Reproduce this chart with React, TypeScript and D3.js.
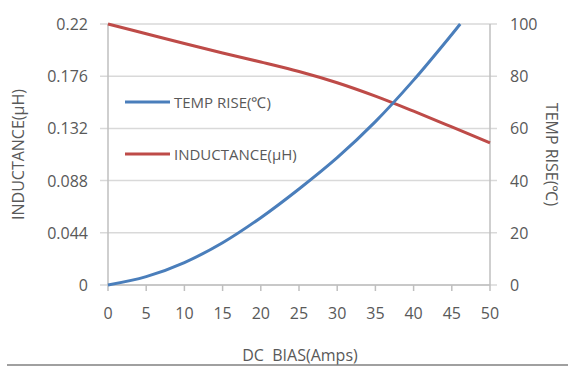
import React from "react";
import * as d3 from "d3";

const biasAmps = [0, 5, 10, 15, 20, 25, 30, 35, 40, 45, 50];
const inductance = [0.22, 0.2118, 0.2035, 0.1955, 0.188, 0.18, 0.1705, 0.1592, 0.1465, 0.1332, 0.1197];
const tempBias = [0, 5, 10, 15, 20, 25, 30, 35, 40, 45, 46.1];
const tempRise = [0, 3.2, 8.6, 16.2, 25.8, 36.8, 48.8, 62.6, 78.5, 96, 100];
const leftTicks = [0, 0.044, 0.088, 0.132, 0.176, 0.22];
const rightTicks = [0, 20, 40, 60, 80, 100];
const xTicks = [0, 5, 10, 15, 20, 25, 30, 35, 40, 45, 50];

const W = 568, H = 367;
const L = 108, R = 490, T = 24, B = 285;
const FONT = "'Open Sans', 'Liberation Sans', sans-serif";
const TXT = "#595959";

export default function App() {
  const x = d3.scaleLinear().domain([0, 50]).range([L, R]);
  const yL = d3.scaleLinear().domain([0, 0.22]).range([B, T]);
  const yR = d3.scaleLinear().domain([0, 100]).range([B, T]);
  const indLine = d3.line<number>().x((_, i) => x(biasAmps[i])).y((d) => yL(d)).curve(d3.curveCatmullRom.alpha(0.5));
  const tempLine = d3.line<number>().x((_, i) => x(tempBias[i])).y((d) => yR(d)).curve(d3.curveCatmullRom.alpha(0.5));
  return (
    <svg width={W} height={H} style={{ position: "absolute", left: 0, top: 0, background: "#fff" }}>
      <rect x={0} y={0} width={W} height={H} fill="#fff" />
      {leftTicks.map((t, i) => (
        <line key={"g" + i} x1={L - 8} x2={R + 7} y1={yL(t)} y2={yL(t)} stroke="#d9d9d9" strokeWidth={1.5} />
      ))}
      <line x1={L} x2={L} y1={T} y2={B} stroke="#bfbfbf" strokeWidth={1.5} />
      <line x1={R} x2={R} y1={T} y2={B} stroke="#bfbfbf" strokeWidth={1.5} />
      <line x1={L} x2={R} y1={B} y2={B} stroke="#bfbfbf" strokeWidth={1.5} />
      {xTicks.map((t, i) => (
        <g key={"x" + i}>
          <line x1={x(t)} x2={x(t)} y1={B} y2={B + 6} stroke="#bfbfbf" strokeWidth={1.5} />
          <text x={x(t)} y={B + 34} textAnchor="middle" fontFamily={FONT} fontSize={16} fill={TXT}>{t}</text>
        </g>
      ))}
      {leftTicks.map((t, i) => (
        <text key={"l" + i} x={88} y={yL(t) + 6} textAnchor="end" fontFamily={FONT} fontSize={16} fill={TXT}>{t}</text>
      ))}
      {rightTicks.map((t, i) => (
        <text key={"r" + i} x={510} y={yR(t) + 6} textAnchor="start" fontFamily={FONT} fontSize={16} fill={TXT}>{t}</text>
      ))}
      <path d={indLine(inductance) || ""} fill="none" stroke="#be4b48" strokeWidth={3} />
      <path d={tempLine(tempRise) || ""} fill="none" stroke="#4a7ebb" strokeWidth={3} />
      <line x1={125} x2={170} y1={102} y2={102} stroke="#4a7ebb" strokeWidth={3} />
      <text x={174} y={108} fontFamily={FONT} fontSize={15} fill={TXT}>TEMP RISE(℃)</text>
      <line x1={125} x2={170} y1={154} y2={154} stroke="#be4b48" strokeWidth={3} />
      <text x={174} y={160} fontFamily={FONT} fontSize={15} fill={TXT}>INDUCTANCE(µH)</text>
      <text transform={`translate(24,${(T + B) / 2}) rotate(-90)`} textAnchor="middle" fontFamily={FONT} fontSize={16} fill={TXT}>INDUCTANCE(µH)</text>
      <text transform={`translate(546,${(T + B) / 2}) rotate(90)`} textAnchor="middle" fontFamily={FONT} fontSize={16} fill={TXT}>TEMP RISE(℃)</text>
      <text x={300} y={361} textAnchor="middle" fontFamily={FONT} fontSize={16} fill={TXT} style={{ whiteSpace: "pre" }}>DC  BIAS(Amps)</text>
      <line x1={7} x2={W} y1={365} y2={365} stroke="#808080" strokeWidth={1.5} />
    </svg>
  );
}
